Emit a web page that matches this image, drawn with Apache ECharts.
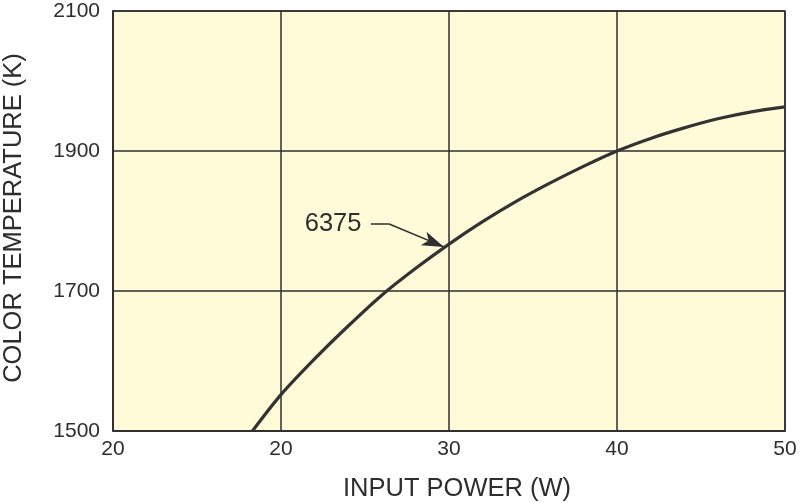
<!DOCTYPE html>
<html>
<head>
<meta charset="utf-8">
<script src="https://cdn.jsdelivr.net/npm/echarts@6/dist/echarts.min.js"></script>
<style>
html,body{margin:0;padding:0;background:#fff;}
#chart{width:800px;height:503px;}
</style>
</head>
<body>
<div id="chart"></div>
<script>
// Data
const powerW = [18.3, 20, 22, 24, 26, 28, 30, 32, 34, 36, 38, 40, 42, 44, 46, 48, 50];
const colorTempK = [1500, 1552, 1603, 1650, 1694, 1732, 1767, 1799, 1828, 1854, 1878, 1900, 1918, 1933, 1946, 1956, 1963];
const xTickValues = [10, 20, 30, 40, 50];
const xTickLabels = ['20', '20', '30', '40', '50'];
const yTickLabels = ['1500', '1700', '1900', '2100'];
const curveLabel = '6375';
const labelPoint = [23.1, 1796];
const leaderPoints = [[25.35, 1796], [26.4, 1796], [29.7, 1763]];

const ink = '#2e2e2e';
const chart = echarts.init(document.getElementById('chart'));
chart.setOption({
  animation: false,
  backgroundColor: '#ffffff',
  grid: {left: 113, right: 15, top: 11, bottom: 72, containLabel: false, outerBoundsMode: 'none',
    show: true, backgroundColor: '#FFFAD8', borderColor: ink, borderWidth: 1.5},
  xAxis: {
    type: 'value', min: 10, max: 50, interval: 10,
    name: 'INPUT POWER (W)', nameLocation: 'middle', nameGap: 45,
    nameTextStyle: {fontFamily: 'Liberation Sans', fontSize: 25.5, color: ink, padding: [0, 0, 0, 16]},
    axisLine: {show: true, lineStyle: {color: ink, width: 1.5}},
    axisTick: {show: false},
    axisLabel: {margin: 8, fontFamily: 'Liberation Sans', fontSize: 21, color: ink,
      formatter: v => { const i = xTickValues.indexOf(v); return i >= 0 ? xTickLabels[i] : ''; }},
    splitLine: {show: true, lineStyle: {color: ink, width: 1.5}}
  },
  yAxis: {
    type: 'value', min: 1500, max: 2100, interval: 200,
    name: 'COLOR TEMPERATURE (K)', nameLocation: 'middle', nameGap: 86,
    nameTextStyle: {fontFamily: 'Liberation Sans', fontSize: 25.5, color: ink, padding: [0, 0, 0, 6]},
    axisLine: {show: true, lineStyle: {color: ink, width: 1.5}},
    axisTick: {show: false},
    axisLabel: {margin: 13, fontFamily: 'Liberation Sans', fontSize: 21, color: ink,
      formatter: v => { const s = String(v); return yTickLabels.indexOf(s) >= 0 ? s : ''; }},
    splitLine: {show: true, lineStyle: {color: ink, width: 1.5}}
  },
  series: [
    {
      type: 'line', smooth: 0.3, symbol: 'none',
      data: powerW.map((x, i) => [x, colorTempK[i]]),
      lineStyle: {color: '#333333', width: 3.2},
      z: 5
    },
    {
      type: 'line', symbol: 'none', silent: true,
      data: [],
      markPoint: {
        symbol: 'circle', symbolSize: 0,
        data: [{coord: labelPoint, value: curveLabel}],
        label: {show: true, position: 'inside', formatter: curveLabel, fontFamily: 'Liberation Sans', fontSize: 25.5, color: ink}
      },
      markLine: {
        silent: true, animation: false,
        label: {show: false},
        lineStyle: {color: ink, width: 1.5, type: 'solid'},
        data: [
          [{coord: leaderPoints[0], symbol: 'none'}, {coord: leaderPoints[1], symbol: 'none'}],
          [{coord: leaderPoints[1], symbol: 'none'}, {coord: leaderPoints[2], symbol: 'arrow', symbolSize: [11, 22]}]
        ]
      }
    }
  ]
});
</script>
</body>
</html>
